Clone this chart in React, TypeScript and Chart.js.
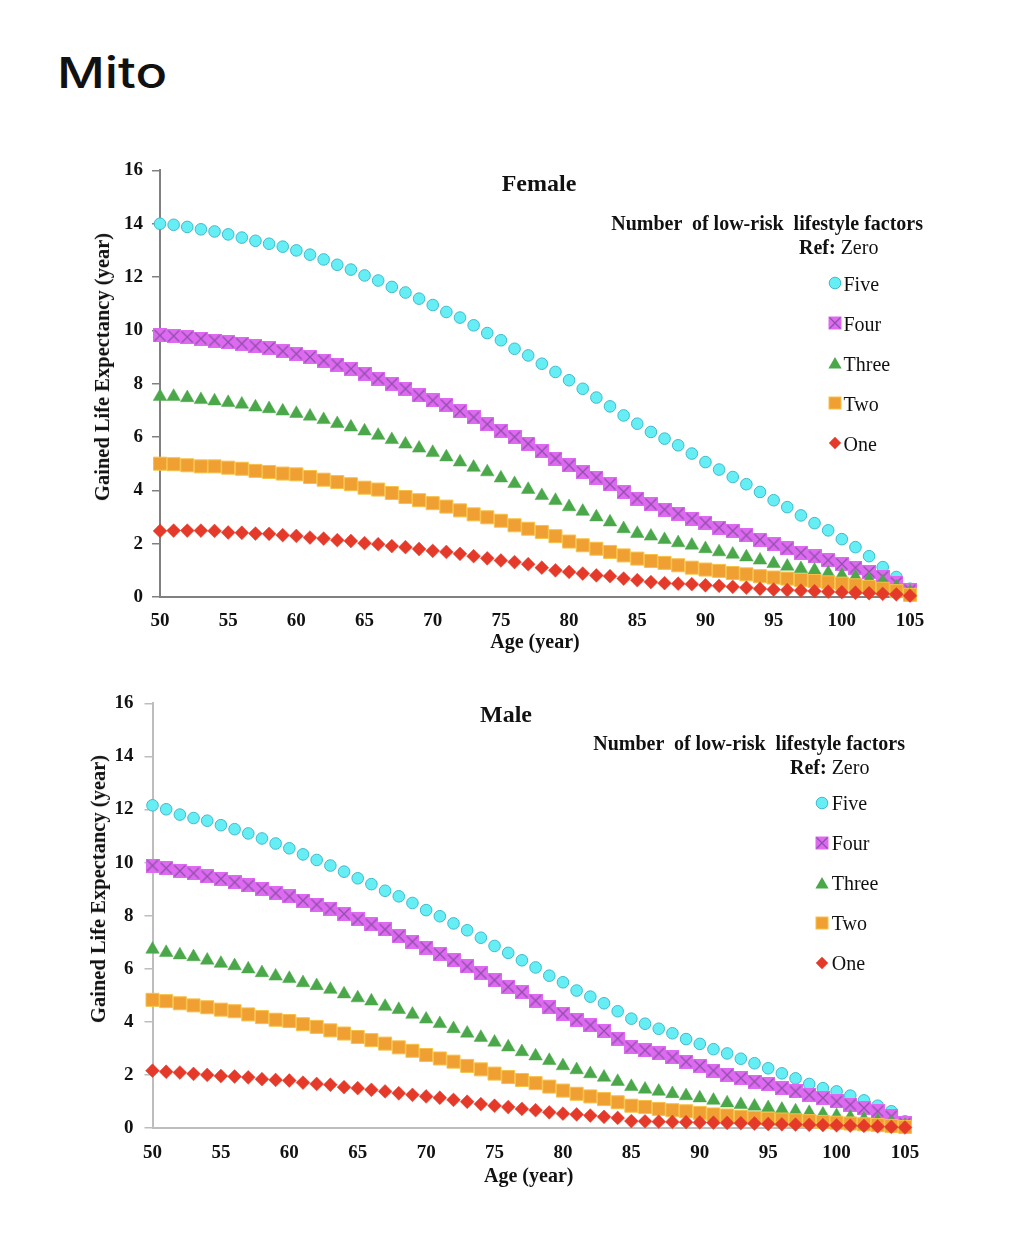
import React, { useEffect, useRef } from "react";
import { Chart, registerables } from "chart.js";

Chart.register(...registerables);

// ---------------- data ----------------
const AGES = [
  50, 51, 52, 53, 54, 55, 56, 57, 58, 59,
  60, 61, 62, 63, 64, 65, 66, 67, 68, 69,
  70, 71, 72, 73, 74, 75, 76, 77, 78, 79,
  80, 81, 82, 83, 84, 85, 86, 87, 88, 89,
  90, 91, 92, 93, 94, 95, 96, 97, 98, 99,
  100, 101, 102, 103, 104, 105,
];
const X_TICKS = [50, 55, 60, 65, 70, 75, 80, 85, 90, 95, 100, 105];
const Y_TICKS = [0, 2, 4, 6, 8, 10, 12, 14, 16];
const SERIES = ["Five", "Four", "Three", "Two", "One"];
const LEGEND_TITLE = "Number  of low-risk  lifestyle factors";
const REF_BOLD = "Ref:";
const REF_TEXT = " Zero";
const Y_TITLE = "Gained Life Expectancy (year)";
const X_TITLE = "Age (year)";

const FEMALE_FIVE = [
  14.0, 13.96, 13.88, 13.79, 13.71, 13.6, 13.48, 13.36, 13.25, 13.14,
  13.0, 12.84, 12.66, 12.46, 12.28, 12.06, 11.87, 11.63, 11.42, 11.19,
  10.95, 10.69, 10.48, 10.19, 9.9, 9.63, 9.31, 9.06, 8.75, 8.44,
  8.13, 7.81, 7.48, 7.15, 6.81, 6.5, 6.19, 5.94, 5.69, 5.38,
  5.06, 4.78, 4.5, 4.23, 3.94, 3.63, 3.37, 3.06, 2.77, 2.5,
  2.17, 1.87, 1.53, 1.12, 0.75, 0.31,
];
const FEMALE_FOUR = [
  9.81, 9.79, 9.75, 9.69, 9.62, 9.56, 9.5, 9.41, 9.34, 9.22,
  9.12, 9.0, 8.87, 8.72, 8.56, 8.38, 8.19, 8.0, 7.81, 7.56,
  7.37, 7.2, 6.97, 6.74, 6.48, 6.24, 6.0, 5.75, 5.47, 5.19,
  4.94, 4.69, 4.48, 4.23, 3.94, 3.69, 3.48, 3.28, 3.13, 2.94,
  2.78, 2.6, 2.48, 2.31, 2.15, 1.98, 1.82, 1.66, 1.52, 1.38,
  1.24, 1.1, 0.94, 0.76, 0.53, 0.25,
];
const FEMALE_THREE = [
  7.52, 7.52, 7.47, 7.4, 7.35, 7.29, 7.23, 7.12, 7.06, 6.97,
  6.88, 6.78, 6.65, 6.5, 6.37, 6.22, 6.06, 5.9, 5.73, 5.58,
  5.42, 5.25, 5.06, 4.86, 4.69, 4.46, 4.25, 4.03, 3.8, 3.62,
  3.38, 3.21, 3.0, 2.81, 2.56, 2.38, 2.28, 2.15, 2.03, 1.94,
  1.81, 1.69, 1.6, 1.5, 1.38, 1.25, 1.15, 1.06, 1.0, 0.9,
  0.81, 0.75, 0.65, 0.56, 0.37, 0.19,
];
const FEMALE_TWO = [
  5.0, 4.98, 4.94, 4.9, 4.9, 4.85, 4.81, 4.73, 4.69, 4.63,
  4.6, 4.5, 4.4, 4.31, 4.23, 4.1, 4.03, 3.9, 3.75, 3.63,
  3.52, 3.39, 3.25, 3.1, 2.99, 2.86, 2.69, 2.56, 2.44, 2.28,
  2.08, 1.94, 1.81, 1.69, 1.56, 1.44, 1.35, 1.28, 1.19, 1.1,
  1.03, 0.98, 0.9, 0.85, 0.78, 0.73, 0.69, 0.64, 0.6, 0.55,
  0.5, 0.44, 0.38, 0.31, 0.22, 0.08,
];
const FEMALE_ONE = [
  2.48, 2.49, 2.49, 2.49, 2.48, 2.42, 2.41, 2.38, 2.37, 2.32,
  2.29, 2.23, 2.19, 2.13, 2.1, 2.02, 1.98, 1.91, 1.87, 1.8,
  1.73, 1.69, 1.62, 1.53, 1.45, 1.37, 1.31, 1.23, 1.1, 1.0,
  0.94, 0.88, 0.81, 0.78, 0.69, 0.63, 0.56, 0.52, 0.5, 0.48,
  0.44, 0.42, 0.38, 0.35, 0.31, 0.28, 0.26, 0.24, 0.22, 0.2,
  0.18, 0.16, 0.14, 0.12, 0.1, 0.05,
];

const MALE_FIVE = [
  12.16, 12.01, 11.81, 11.68, 11.58, 11.41, 11.26, 11.1, 10.91, 10.72,
  10.54, 10.31, 10.1, 9.89, 9.66, 9.41, 9.19, 8.94, 8.73, 8.48,
  8.21, 7.98, 7.71, 7.45, 7.17, 6.86, 6.6, 6.32, 6.05, 5.74,
  5.49, 5.18, 4.95, 4.7, 4.4, 4.12, 3.93, 3.74, 3.57, 3.35,
  3.17, 2.97, 2.81, 2.61, 2.44, 2.25, 2.06, 1.87, 1.66, 1.5,
  1.38, 1.22, 1.04, 0.84, 0.63, 0.25,
];
const MALE_FOUR = [
  9.89, 9.79, 9.69, 9.6, 9.48, 9.39, 9.26, 9.14, 9.02, 8.85,
  8.73, 8.57, 8.42, 8.27, 8.07, 7.86, 7.67, 7.48, 7.23, 7.02,
  6.8, 6.56, 6.33, 6.09, 5.83, 5.57, 5.32, 5.12, 4.8, 4.55,
  4.31, 4.08, 3.87, 3.66, 3.37, 3.06, 2.93, 2.81, 2.66, 2.5,
  2.34, 2.16, 2.0, 1.88, 1.75, 1.66, 1.5, 1.38, 1.25, 1.13,
  1.0, 0.88, 0.75, 0.63, 0.44, 0.17,
];
const MALE_THREE = [
  6.73, 6.61, 6.52, 6.45, 6.32, 6.2, 6.11, 5.99, 5.85, 5.72,
  5.63, 5.47, 5.36, 5.22, 5.05, 4.9, 4.78, 4.58, 4.46, 4.28,
  4.1, 3.93, 3.74, 3.57, 3.41, 3.23, 3.05, 2.87, 2.71, 2.54,
  2.34, 2.19, 2.04, 1.91, 1.75, 1.56, 1.46, 1.38, 1.29, 1.21,
  1.13, 1.04, 0.94, 0.88, 0.82, 0.76, 0.7, 0.64, 0.58, 0.52,
  0.46, 0.4, 0.34, 0.27, 0.19, 0.1,
];
const MALE_TWO = [
  4.83, 4.78, 4.7, 4.62, 4.55, 4.46, 4.4, 4.28, 4.18, 4.08,
  4.03, 3.91, 3.81, 3.68, 3.56, 3.43, 3.31, 3.18, 3.04, 2.91,
  2.75, 2.62, 2.5, 2.34, 2.21, 2.05, 1.92, 1.81, 1.69, 1.56,
  1.41, 1.29, 1.19, 1.09, 0.97, 0.84, 0.79, 0.72, 0.67, 0.63,
  0.57, 0.51, 0.47, 0.42, 0.38, 0.35, 0.32, 0.29, 0.26, 0.23,
  0.2, 0.17, 0.14, 0.11, 0.08, 0.04,
];
const MALE_ONE = [
  2.16, 2.12, 2.09, 2.04, 2.0, 1.96, 1.94, 1.91, 1.84, 1.81,
  1.79, 1.71, 1.66, 1.63, 1.54, 1.5, 1.44, 1.38, 1.31, 1.25,
  1.19, 1.14, 1.06, 0.99, 0.9, 0.84, 0.79, 0.72, 0.67, 0.59,
  0.54, 0.51, 0.47, 0.42, 0.38, 0.26, 0.25, 0.24, 0.23, 0.22,
  0.21, 0.2, 0.19, 0.18, 0.17, 0.15, 0.14, 0.13, 0.12, 0.11,
  0.1, 0.09, 0.08, 0.06, 0.04, 0.02,
];

// ---------------- styles ----------------
const SERIF = '"Liberation Serif", "Times New Roman", serif';
const FIVE_FILL = "#66EEF5";
const FIVE_EDGE = "#3FB9CC";
const FOUR_FILL = "#DD6AF0";
const FOUR_LINE = "#8E4FA8";
const THREE_FILL = "#4AA84A";
const TWO_FILL = "#F0A033";
const TWO_EDGE = "#F6C246";
const ONE_FILL = "#E53A2A";

function makeXSquare(size: number): HTMLCanvasElement {
  const c = document.createElement("canvas");
  c.width = size;
  c.height = size;
  const ctx = c.getContext("2d")!;
  ctx.fillStyle = FOUR_FILL;
  ctx.fillRect(0, 0, size, size);
  ctx.strokeStyle = FOUR_LINE;
  ctx.lineWidth = 1.2;
  ctx.beginPath();
  ctx.moveTo(1.5, 1.5);
  ctx.lineTo(size - 1.5, size - 1.5);
  ctx.moveTo(size - 1.5, 1.5);
  ctx.lineTo(1.5, size - 1.5);
  ctx.stroke();
  return c;
}

function buildDatasets(values: number[][], xSquare: HTMLCanvasElement) {
  const pts = (arr: number[]) => AGES.map((a, i) => ({ x: a, y: arr[i] }));
  return [
    {
      label: SERIES[0], data: pts(values[0]), pointStyle: "circle", pointRadius: 5.8,
      pointBackgroundColor: FIVE_FILL, pointBorderColor: FIVE_EDGE, pointBorderWidth: 1, order: 4, clip: false,
    },
    {
      label: SERIES[1], data: pts(values[1]), pointStyle: xSquare, pointRadius: 7,
      pointBackgroundColor: FOUR_FILL, pointBorderColor: FOUR_LINE, order: 3, clip: false,
    },
    {
      label: SERIES[2], data: pts(values[2]), pointStyle: "triangle", pointRadius: 7.8,
      pointBackgroundColor: THREE_FILL, pointBorderColor: THREE_FILL, pointBorderWidth: 0.5, order: 2, clip: false,
    },
    {
      label: SERIES[3], data: pts(values[3]), pointStyle: "rect", pointRadius: 9.2,
      pointBackgroundColor: TWO_FILL, pointBorderColor: TWO_EDGE, pointBorderWidth: 1, order: 1, clip: false,
    },
    {
      label: SERIES[4], data: pts(values[4]), pointStyle: "rectRot", pointRadius: 6.9,
      pointBackgroundColor: ONE_FILL, pointBorderColor: ONE_FILL, pointBorderWidth: 0.5, order: 0, clip: false,
    },
  ];
}

type PanelCfg = {
  top: number;
  height: number;
  padLeft: number;
  padRight: number;
  padTop: number;
  yAxisWidth: number;
  xAxisHeight: number;
  xTitlePad: number;
  yTickPad: number;
  xTickPad: number;
  axisColor: string;
  values: number[][];
};

function Panel({ cfg }: { cfg: PanelCfg }) {
  const ref = useRef<HTMLCanvasElement>(null);
  useEffect(() => {
    const xSq = makeXSquare(14);
    const tickFont = { family: SERIF, size: 19, weight: "bold" as const };
    const chart = new Chart(ref.current!, {
      type: "scatter",
      data: { datasets: buildDatasets(cfg.values, xSq) as any },
      options: {
        responsive: true,
        maintainAspectRatio: false,
        animation: false,
        events: [],
        layout: { padding: { top: cfg.padTop, left: cfg.padLeft, right: cfg.padRight, bottom: 0 } },
        plugins: {
          legend: { display: false },
          title: { display: false },
          tooltip: { enabled: false },
        },
        scales: {
          x: {
            type: "linear",
            min: 50,
            max: 105,
            afterBuildTicks: (axis: any) => {
              axis.ticks = X_TICKS.map((v) => ({ value: v }));
            },
            afterFit: (axis: any) => {
              axis.height = cfg.xAxisHeight;
            },
            grid: { display: false, drawTicks: false, tickLength: 0 },
            border: { display: true, color: cfg.axisColor, width: 2 },
            ticks: { font: tickFont, color: "#111", padding: cfg.xTickPad, autoSkip: false, maxRotation: 0 },
            title: {
              display: true,
              text: X_TITLE,
              font: { family: SERIF, size: 20, weight: "bold" },
              color: "#111",
              padding: { top: 0, bottom: cfg.xTitlePad },
            },
          },
          y: {
            type: "linear",
            min: 0,
            max: 16,
            afterBuildTicks: (axis: any) => {
              axis.ticks = Y_TICKS.map((v) => ({ value: v }));
            },
            afterFit: (axis: any) => {
              axis.width = cfg.yAxisWidth;
            },
            grid: {
              display: true,
              drawOnChartArea: false,
              drawTicks: true,
              tickLength: 8,
              color: cfg.axisColor,
              lineWidth: 1.5,
            },
            border: { display: true, color: cfg.axisColor, width: 2 },
            ticks: { font: tickFont, color: "#111", padding: cfg.yTickPad },
          },
        },
      },
    });
    return () => chart.destroy();
  }, []);
  return (
    <div style={{ position: "absolute", left: 0, top: cfg.top, width: 1010, height: cfg.height }}>
      <canvas ref={ref} style={{ display: "block" }} />
    </div>
  );
}

function Marker({ kind, cx, cy }: { kind: number; cx: number; cy: number }) {
  let shape: React.ReactNode = null;
  if (kind === 0) shape = <circle cx={7} cy={7} r={5.8} fill={FIVE_FILL} stroke={FIVE_EDGE} strokeWidth={1} />;
  if (kind === 1)
    shape = (
      <g>
        <rect x={0.5} y={0.5} width={13} height={13} fill={FOUR_FILL} />
        <path d="M1.5 1.5 L12.5 12.5 M12.5 1.5 L1.5 12.5" stroke={FOUR_LINE} strokeWidth={1.2} />
      </g>
    );
  if (kind === 2) shape = <polygon points="7,1 13.6,12.6 0.4,12.6" fill={THREE_FILL} />;
  if (kind === 3) shape = <rect x={1} y={1} width={12} height={12} fill={TWO_FILL} stroke={TWO_EDGE} strokeWidth={1} />;
  if (kind === 4) shape = <polygon points="7,0.8 13.2,7 7,13.2 0.8,7" fill={ONE_FILL} />;
  return (
    <svg width={14} height={14} style={{ position: "absolute", left: cx - 7, top: cy - 7 }}>
      {shape}
    </svg>
  );
}

// baseline-positioned serif text (line-height 1 -> baseline at top + 0.8375em)
function SerifText(props: {
  left?: number;
  right?: number;
  baseline: number;
  size: number;
  bold?: boolean;
  children: React.ReactNode;
}) {
  const { left, right, baseline, size, bold, children } = props;
  const style: React.CSSProperties = {
    position: "absolute",
    top: baseline - 0.8375 * size,
    fontFamily: SERIF,
    fontSize: size,
    lineHeight: `${size}px`,
    fontWeight: bold ? "bold" : "normal",
    color: "#111",
    whiteSpace: "pre",
  };
  if (left !== undefined) style.left = left;
  if (right !== undefined) style.right = right;
  return <div style={style}>{children}</div>;
}

function YTitle({ cx, cy }: { cx: number; cy: number }) {
  return (
    <div
      style={{
        position: "absolute",
        left: cx,
        top: cy,
        transform: "translate(-50%, -50%) rotate(-90deg)",
        fontFamily: SERIF,
        fontSize: 20.5,
        lineHeight: "20px",
        fontWeight: "bold",
        color: "#111",
        whiteSpace: "nowrap",
      }}
    >
      {Y_TITLE}
    </div>
  );
}

function Legend(props: {
  titleRight: number;
  titleBaseline: number;
  refLeft: number;
  refBaseline: number;
  markerX: number;
  firstY: number;
  textLeft: number;
  baseOffset: number;
}) {
  const p = props;
  return (
    <>
      <SerifText right={1010 - p.titleRight} baseline={p.titleBaseline} size={20} bold>
        {LEGEND_TITLE}
      </SerifText>
      <SerifText left={p.refLeft} baseline={p.refBaseline} size={20}>
        <b>{REF_BOLD}</b>
        {REF_TEXT}
      </SerifText>
      {SERIES.map((s, i) => (
        <React.Fragment key={s}>
          <Marker kind={i} cx={p.markerX} cy={p.firstY + 40 * i} />
          <SerifText left={p.textLeft} baseline={p.firstY + 40 * i + p.baseOffset} size={20}>
            {s}
          </SerifText>
        </React.Fragment>
      ))}
    </>
  );
}

const FEMALE_CFG: PanelCfg = {
  top: 150,
  height: 507,
  padLeft: 90,
  padRight: 100,
  padTop: 20,
  yAxisWidth: 70,
  xAxisHeight: 60,
  xTitlePad: 2,
  yTickPad: 9,
  xTickPad: 13,
  axisColor: "#808080",
  values: [FEMALE_FIVE, FEMALE_FOUR, FEMALE_THREE, FEMALE_TWO, FEMALE_ONE],
};

const MALE_CFG: PanelCfg = {
  top: 681,
  height: 511,
  padLeft: 82.5,
  padRight: 105,
  padTop: 20,
  yAxisWidth: 70,
  xAxisHeight: 64,
  xTitlePad: 3,
  yTickPad: 11,
  xTickPad: 14,
  axisColor: "#BDBDBD",
  values: [MALE_FIVE, MALE_FOUR, MALE_THREE, MALE_TWO, MALE_ONE],
};

export default function App() {
  return (
    <div style={{ position: "absolute", left: 0, top: 0, width: 1010, height: 1252, background: "#fff", overflow: "hidden" }}>
      <div
        style={{
          position: "absolute",
          left: 57,
          top: 88 - 0.8635 * 43,
          fontFamily: "Inter, 'Noto Sans', sans-serif",
          fontSize: 43,
          lineHeight: "43px",
          fontWeight: 500,
          color: "#111",
          transform: "scaleX(1.22)",
          transformOrigin: "left center",
        }}
      >
        Mito
      </div>

      <Panel cfg={FEMALE_CFG} />
      <SerifText left={501.7} baseline={190.7} size={24} bold>
        Female
      </SerifText>
      <YTitle cx={101.5} cy={367} />
      <Legend
        titleRight={923}
        titleBaseline={230}
        refLeft={799}
        refBaseline={254}
        markerX={835}
        firstY={283.3}
        textLeft={843.5}
        baseOffset={7.4}
      />

      <Panel cfg={MALE_CFG} />
      <SerifText left={480} baseline={722} size={24} bold>
        Male
      </SerifText>
      <YTitle cx={98.3} cy={888.5} />
      <Legend
        titleRight={905}
        titleBaseline={750}
        refLeft={790}
        refBaseline={773.3}
        markerX={821.7}
        firstY={803.3}
        textLeft={831.7}
        baseOffset={6}
      />
    </div>
  );
}
